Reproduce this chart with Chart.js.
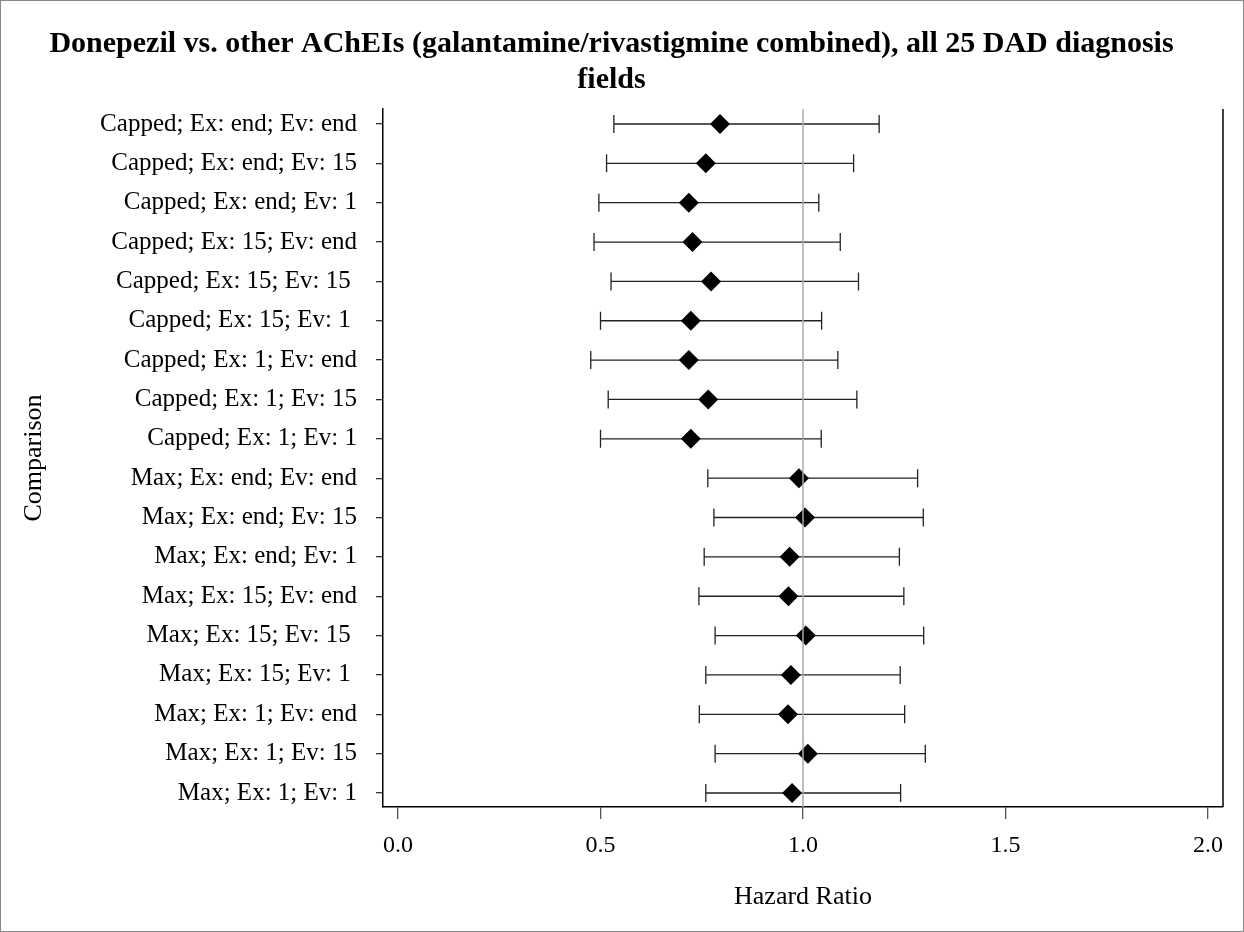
<!DOCTYPE html>
<html>
<head>
<meta charset="utf-8">
<script src="https://cdn.jsdelivr.net/npm/chart.js@4.4.1/dist/chart.umd.min.js"></script>
<style>
  html, body { margin: 0; padding: 0; background: #fff; }
  #wrap { width: 1244px; height: 932px; }
</style>
</head>
<body>
<div id="wrap"><canvas id="chart"></canvas></div>
<script>
// one row per comparison, top to bottom
const COMPARISONS = [
  "Capped; Ex: end; Ev: end",
  "Capped; Ex: end; Ev: 15",
  "Capped; Ex: end; Ev: 1",
  "Capped; Ex: 15; Ev: end",
  "Capped; Ex: 15; Ev: 15 ",
  "Capped; Ex: 15; Ev: 1 ",
  "Capped; Ex: 1; Ev: end",
  "Capped; Ex: 1; Ev: 15",
  "Capped; Ex: 1; Ev: 1",
  "Max; Ex: end; Ev: end",
  "Max; Ex: end; Ev: 15",
  "Max; Ex: end; Ev: 1",
  "Max; Ex: 15; Ev: end",
  "Max; Ex: 15; Ev: 15 ",
  "Max; Ex: 15; Ev: 1 ",
  "Max; Ex: 1; Ev: end",
  "Max; Ex: 1; Ev: 15",
  "Max; Ex: 1; Ev: 1"
];
const HR    = [0.795, 0.760, 0.718, 0.727, 0.773, 0.723, 0.718, 0.766, 0.723,
               0.990, 1.005, 0.967, 0.964, 1.007, 0.970, 0.963, 1.012, 0.973];
const LOWER = [0.533, 0.515, 0.496, 0.484, 0.526, 0.500, 0.476, 0.519, 0.500,
               0.765, 0.780, 0.756, 0.743, 0.783, 0.760, 0.744, 0.783, 0.760];
const UPPER = [1.188, 1.125, 1.039, 1.092, 1.137, 1.046, 1.086, 1.133, 1.045,
               1.283, 1.297, 1.238, 1.249, 1.298, 1.240, 1.251, 1.302, 1.241];
const X_TICKS = [0, 0.5, 1.0, 1.5, 2.0];
const REF_HR = 1.0;

const SERIF = "'Liberation Serif', 'Times New Roman', serif";

// error bars under the diamonds
const errorBars = {
  id: 'errorBars',
  beforeDatasetsDraw(chart) {
    const { ctx, scales: { x, y } } = chart;
    ctx.save();
    ctx.strokeStyle = '#222';
    ctx.lineWidth = 1.3;
    LOWER.forEach((lo, i) => {
      const py = y.getPixelForValue(i + 1);
      const x1 = x.getPixelForValue(lo);
      const x2 = x.getPixelForValue(UPPER[i]);
      ctx.beginPath();
      ctx.moveTo(x1, py); ctx.lineTo(x2, py);
      ctx.moveTo(x1, py - 9); ctx.lineTo(x1, py + 9);
      ctx.moveTo(x2, py - 9); ctx.lineTo(x2, py + 9);
      ctx.stroke();
    });
    ctx.restore();
  },
  afterDatasetsDraw(chart) {
    const { ctx, chartArea: a, scales: { x } } = chart;
    const px = x.getPixelForValue(REF_HR);
    ctx.save();
    ctx.strokeStyle = '#aaa';
    ctx.lineWidth = 1.5;
    ctx.beginPath();
    ctx.moveTo(px, a.top); ctx.lineTo(px, a.bottom);
    ctx.stroke();
    ctx.restore();
  },
  afterDraw(chart) {
    const { ctx, chartArea: a, width, height } = chart;
    ctx.save();
    ctx.strokeStyle = '#000';
    ctx.lineWidth = 1.5;
    ctx.beginPath();
    ctx.moveTo(a.right, a.top); ctx.lineTo(a.right, a.bottom);
    ctx.stroke();
    ctx.strokeStyle = '#888';
    ctx.lineWidth = 1;
    ctx.strokeRect(0.5, 0.5, width - 1, height - 1);
    ctx.restore();
  }
};

new Chart(document.getElementById('chart'), {
  type: 'scatter',
  data: {
    datasets: [{
      data: HR.map((v, i) => ({ x: v, y: i + 1 })),
      pointStyle: 'rectRot',
      pointRadius: 10,
      pointHoverRadius: 10,
      backgroundColor: '#000',
      borderColor: '#000',
      borderWidth: 0
    }]
  },
  options: {
    responsive: true,
    maintainAspectRatio: false,
    animation: false,
    layout: { padding: { left: 0, right: 21, top: 0, bottom: 0 } },
    plugins: {
      legend: { display: false },
      tooltip: { enabled: false },
      title: {
        display: true,
        text: ['Donepezil vs. other AChEIs (galantamine/rivastigmine combined), all 25 DAD diagnosis', 'fields'],
        color: '#000',
        font: { family: SERIF, size: 30, weight: 'bold', lineHeight: 36 / 30 },
        padding: { top: 26, bottom: 11 }
      }
    },
    scales: {
      x: {
        type: 'linear',
        min: -15 / 405,
        max: 2 + 15 / 405,
        afterBuildTicks: s => { s.ticks = X_TICKS.map(v => ({ value: v })); },
        afterFit: s => { s.height = 932 - 807; },
        ticks: {
          callback: v => v.toFixed(1),
          color: '#000',
          font: { family: SERIF, size: 24 },
          padding: 12,
          maxRotation: 0
        },
        grid: { drawOnChartArea: false, drawTicks: true, tickLength: 12, color: '#555', lineWidth: 1.3 },
        border: { display: true, color: '#000', width: 1.5 },
        title: {
          display: true,
          text: 'Hazard Ratio',
          color: '#000',
          font: { family: SERIF, size: 26 },
          padding: { top: 0, bottom: 19 }
        }
      },
      y: {
        type: 'linear',
        reverse: true,
        min: 0.619,
        max: 18.356,
        afterBuildTicks: s => { s.ticks = COMPARISONS.map((_, i) => ({ value: i + 1 })); },
        afterFit: s => { s.width = 383; },
        ticks: {
          callback: (v, i) => COMPARISONS[i],
          autoSkip: false,
          color: '#000',
          font: { family: SERIF, size: 25 },
          padding: 19
        },
        grid: { drawOnChartArea: false, drawTicks: true, tickLength: 7, color: '#333', lineWidth: 1.3 },
        border: { display: true, color: '#000', width: 1.5 },
        title: {
          display: true,
          text: 'Comparison',
          color: '#000',
          font: { family: SERIF, size: 26 },
          padding: { top: 19, bottom: 0 }
        }
      }
    }
  },
  plugins: [errorBars]
});
</script>
</body>
</html>
